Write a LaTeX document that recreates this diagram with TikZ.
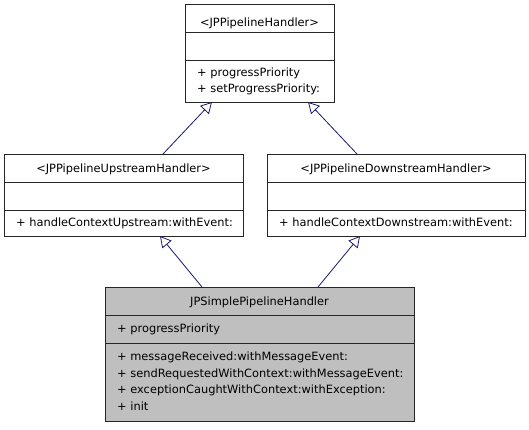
\documentclass[tikz,border=0pt]{standalone}
\usepackage{fontspec}
\setmainfont{DejaVu Sans}
\usetikzlibrary{arrows.meta}
\definecolor{edgec}{HTML}{191970}
\definecolor{boxgray}{HTML}{BFBFBF}
\tikzset{
  cls/.style={draw=black!85, line width=0.9pt, rectangle, inner sep=0pt, anchor=north west},
  ttl/.style={inner sep=0pt, font=\fontsize{11.4}{13}\selectfont, anchor=base},
  mem/.style={inner sep=0pt, font=\fontsize{11.4}{13}\selectfont, anchor=base west},
  sep/.style={draw=black!85, line width=0.9pt},
  inh/.style={draw=edgec, line width=0.8pt, -{Triangle[length=11pt, width=12pt, fill=white, line width=0.8pt]}}
}
\begin{document}
\begin{tikzpicture}[x=1pt,y=-1pt]
\useasboundingbox (0,0) rectangle (529,429);
% top box
\node[cls, fill=white, minimum width=149pt, minimum height=98pt] (top) at (185,4) {};
\draw[sep] (185,32) -- (334,32);
\draw[sep] (185,60) -- (334,60);
\node[ttl] (topt) at (259.5,26) {<JPPipelineHandler>};
\node[mem] (topm1) at (197,76) {+ progressPriority};
\node[mem] (topm2) at (197,92) {+ setProgressPriority:};
% upstream
\node[cls, fill=white, minimum width=239pt, minimum height=82pt] (up) at (4,154) {};
\draw[sep] (4,182) -- (243,182);
\draw[sep] (4,210) -- (243,210);
\node[ttl] (upt) at (123.5,172) {<JPPipelineUpstreamHandler>};
\node[mem] (upm1) at (16,226) {+ handleContextUpstream:withEvent:};
% downstream
\node[cls, fill=white, minimum width=258pt, minimum height=82pt] (dn) at (267,154) {};
\draw[sep] (267,182) -- (525,182);
\draw[sep] (267,210) -- (525,210);
\node[ttl] (dnt) at (396,172) {<JPPipelineDownstreamHandler>};
\node[mem] (dnm1) at (279,226) {+ handleContextDownstream:withEvent:};
% bottom
\node[cls, fill=boxgray, minimum width=309pt, minimum height=134pt] (bot) at (105,287) {};
\draw[sep] (105,315) -- (414,315);
\draw[sep] (105,343) -- (414,343);
\node[ttl] (bott) at (259.5,305) {JPSimplePipelineHandler};
\node[mem] (botm0) at (117,332) {+ progressPriority};
\node[mem] (botm1) at (117,360) {+ messageReceived:withMessageEvent:};
\node[mem] (botm2) at (117,377) {+ sendRequestedWithContext:withMessageEvent:};
\node[mem] (botm3) at (117,393) {+ exceptionCaughtWithContext:withException:};
\node[mem] (botm4) at (117,410) {+ init};
% connection points
\coordinate (upA) at (163,154);
\coordinate (topA) at (212,102);
\coordinate (dnA) at (357,154);
\coordinate (topB) at (308,102);
\coordinate (botA) at (202,287);
\coordinate (upB) at (160,236);
\coordinate (botB) at (318,287);
\coordinate (dnB) at (360,236);
\draw[inh] (upA) -- (topA);
\draw[inh] (dnA) -- (topB);
\draw[inh] (botA) -- (upB);
\draw[inh] (botB) -- (dnB);
\end{tikzpicture}
\end{document}
